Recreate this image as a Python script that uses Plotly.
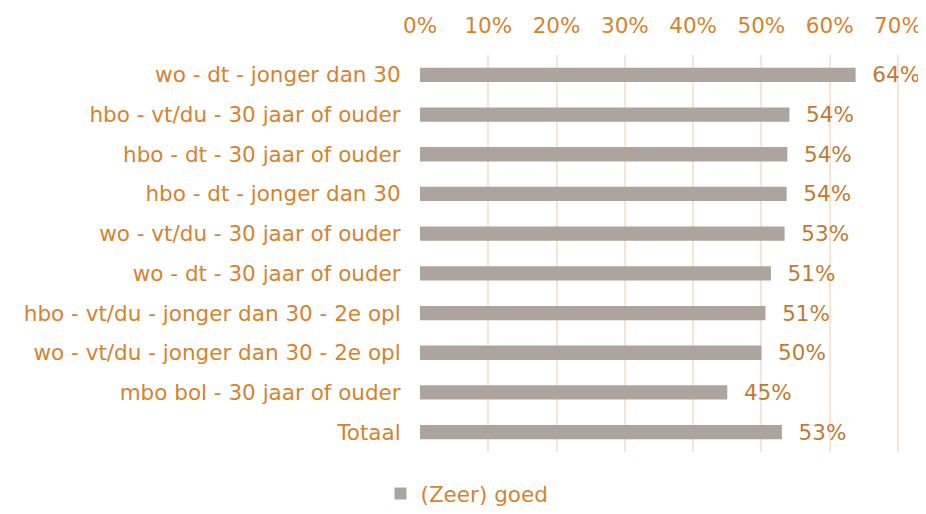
import plotly.graph_objects as go

categories = [
    "wo - dt - jonger dan 30",
    "hbo - vt/du - 30 jaar of ouder",
    "hbo - dt - 30 jaar of ouder",
    "hbo - dt - jonger dan 30",
    "wo - vt/du - 30 jaar of ouder",
    "wo - dt - 30 jaar of ouder",
    "hbo - vt/du - jonger dan 30 - 2e opl",
    "wo - vt/du - jonger dan 30 - 2e opl",
    "mbo bol - 30 jaar of ouder",
    "Totaal",
]
goed = [0.638, 0.541, 0.538, 0.537, 0.534, 0.514, 0.506, 0.500, 0.450, 0.530]
series_name = "(Zeer) goed"

ORANGE = "#D4832F"
BAR = "#ADA59D"
GRID = "#F8E4D2"
FONT = "DejaVu Sans, Verdana, sans-serif"
FS = 21.5

fig = go.Figure()
fig.add_trace(go.Bar(
    y=categories, x=goed, orientation="h", name=series_name,
    marker=dict(color=BAR, line=dict(width=0)), width=0.36,
    text=[f"{v:.0%}" for v in goed], texttemplate="  %{text}",
    textposition="outside", cliponaxis=False, constraintext="none",
    textfont=dict(color="#C07A34", size=FS, family=FONT),
    showlegend=True,
))

# page body has an 8px margin, so the figure is drawn 8px smaller and shifted
fig.update_layout(
    width=918, height=506,
    margin=dict(l=412, r=26, t=47, b=62),
    plot_bgcolor="white", paper_bgcolor="white",
    font=dict(family=FONT, size=FS, color=ORANGE),
    xaxis=dict(side="top", range=[0, 0.703], dtick=0.1, tickformat=".0%",
               showgrid=True, gridcolor=GRID, gridwidth=2, zeroline=False,
               showline=False, ticks="outside", ticklen=12, tickcolor="rgba(0,0,0,0)",
               automargin=False, tickfont=dict(color=ORANGE, size=FS)),
    yaxis=dict(autorange="reversed", showgrid=False, showline=False,
               ticks="outside", ticklen=14, tickcolor="rgba(0,0,0,0)",
               automargin=False, tickfont=dict(color=ORANGE, size=FS)),
    legend=dict(orientation="h", x=0.5, xanchor="center", xref="container",
                y=0.0, yanchor="bottom", yref="container",
                font=dict(color=ORANGE, size=FS)),
    bargap=0.64,
)

fig.write_html("out.html")
